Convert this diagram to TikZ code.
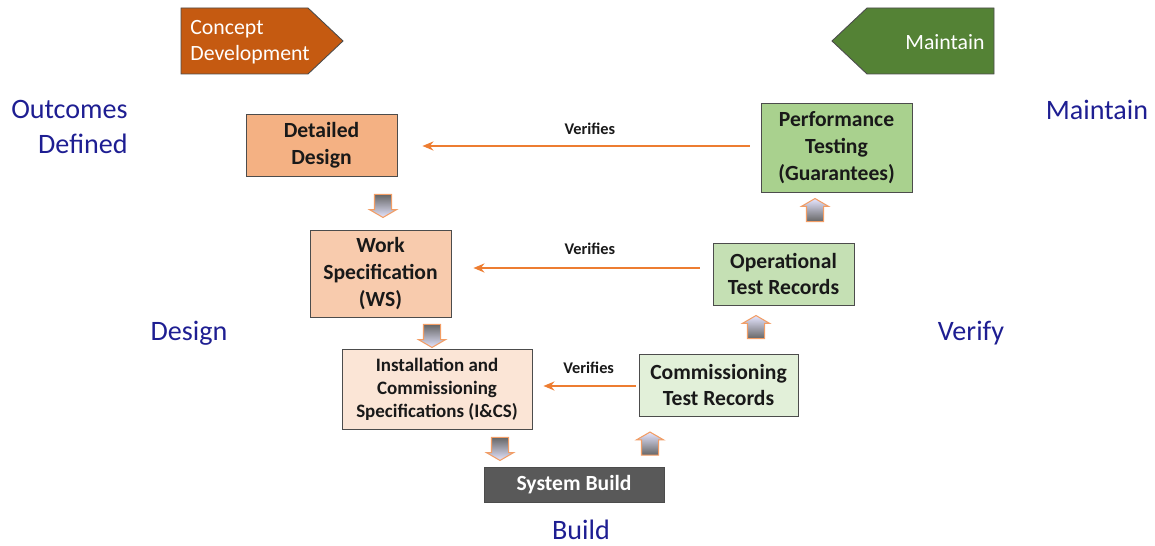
\documentclass[tikz,border=0pt]{standalone}
\usepackage{fontspec}
\setmainfont{Carlito}
\usetikzlibrary{shapes.arrows,arrows.meta}
\definecolor{cdev}{HTML}{C55A11}
\definecolor{mgreen}{HTML}{548235}
\definecolor{vorange}{HTML}{ED7D31}
\definecolor{phblue}{HTML}{1E1E92}
\definecolor{ddfill}{HTML}{F4B183}
\definecolor{wsfill}{HTML}{F8CBAD}
\definecolor{icsfill}{HTML}{FBE5D6}
\definecolor{ctfill}{HTML}{E2F0D9}
\definecolor{otfill}{HTML}{C5E0B4}
\definecolor{ptfill}{HTML}{A9D18E}
\definecolor{sbfill}{HTML}{595959}
\tikzset{
  blk/.style={draw=black!70, line width=0.5pt, align=center, inner sep=0pt,
              font=\fontsize{12.3}{15.3}\selectfont\bfseries, text=black!90},
  ver/.style={draw=vorange, line width=1.1pt, -{Stealth[length=2.2mm, width=1.8mm]}},
  vtxt/.style={font=\fontsize{9.3}{11}\selectfont\bfseries, text=black!90},
  phase/.style={text=phblue, font=\fontsize{16}{19.6}\selectfont},
  tag/.style={text=white, font=\fontsize{12.4}{14.8}\selectfont, inner sep=0pt},
  flow/.style={single arrow, draw=vorange!75, line width=0.6pt, inner sep=0.16cm,
               minimum height=0.46cm, single arrow head extend=0.1cm,
               single arrow tip angle=120, single arrow head indent=0pt},
  dnar/.style={flow, shape border rotate=270, top color=black!60, bottom color=blue!10!white},
  upar/.style={flow, shape border rotate=90, top color=blue!10!white, bottom color=black!60}
}
\begin{document}
\begin{tikzpicture}
\useasboundingbox (0,0) rectangle (23.1,10.92);
% phase tags on top
\filldraw[fill=cdev, draw=black!70, line width=0.5pt]
  (3.62,9.44) -- (6.16,9.44) -- (6.86,10.1) -- (6.16,10.76) -- (3.62,10.76) -- cycle;
\node[tag, anchor=west, align=left] (cdtxt) at (3.80,10.08) {Concept\\Development};
\filldraw[fill=mgreen, draw=black!70, line width=0.5pt]
  (19.88,9.44) -- (17.34,9.44) -- (16.64,10.1) -- (17.34,10.76) -- (19.88,10.76) -- cycle;
\node[tag] (mtxt) at (18.9,10.08) {Maintain};
% phase names
\node[phase, anchor=east, align=right, inner sep=0pt] (outc) at (2.56,8.38) {Outcomes\\Defined};
\node[phase] (pmaint) at (21.94,8.72) {Maintain};
\node[phase] (pdesign) at (3.78,4.26) {Design};
\node[phase] (pverify) at (19.42,4.26) {Verify};
\node[phase] (pbuild) at (11.62,0.32) {Build};
% left leg
\node[blk, fill=ddfill, minimum width=3.02cm, minimum height=1.24cm] (dd) at (6.43,8.02) {Detailed\\Design};
\node[blk, fill=wsfill, minimum width=2.82cm, minimum height=1.74cm] (ws) at (7.61,5.45) {Work\\Specification\\(WS)};
\node[blk, fill=icsfill, minimum width=3.8cm, minimum height=1.6cm,
      font=\fontsize{10.8}{13}\selectfont\bfseries] (ics) at (8.74,3.14)
      {Installation and\\Commissioning\\Specifications (I\&CS)};
% bottom
\node[blk, fill=sbfill, text=white, minimum width=3.6cm, minimum height=0.7cm] (sb) at (11.48,1.23) {System Build};
% right leg
\node[blk, fill=ctfill, minimum width=3.18cm, minimum height=1.24cm] (ct) at (14.37,3.22) {Commissioning\\Test Records};
\node[blk, fill=otfill, minimum width=2.82cm, minimum height=1.24cm] (ot) at (15.67,5.44) {Operational\\Test Records};
\node[blk, fill=ptfill, minimum width=3.02cm, minimum height=1.78cm] (pt) at (16.73,7.97) {Performance\\Testing\\(Guarantees)};
% flow arrows
\node[dnar] (d1) at (7.66,6.85) {};
\node[dnar] (d2) at (8.64,4.25) {};
\node[dnar] (d3) at (10.0,1.99) {};
\node[upar] (u1) at (13.0,2.0) {};
\node[upar] (u2) at (15.12,4.33) {};
\node[upar] (u3) at (16.3,6.67) {};
% verification links
\draw[ver, shorten <=0.22cm, shorten >=0.5cm] ([yshift=0.03cm]pt.west) -- ([yshift=0.03cm]pt.west -| dd.east)
  node[vtxt, pos=0.47, above=0.09cm] (v1) {Verifies};
\draw[ver, shorten <=0.26cm, shorten >=0.44cm] ([yshift=0.12cm]ot.west) -- ([yshift=0.12cm]ot.west -| ws.east)
  node[vtxt, pos=0.47, above=0.13cm] (v2) {Verifies};
\draw[ver, shorten <=0.06cm, shorten >=0.22cm] ([yshift=-0.02cm]ct.west) -- ([yshift=-0.02cm]ct.west -| ics.east)
  node[vtxt, pos=0.47, above=0.11cm] (v3) {Verifies};
\end{tikzpicture}
\end{document}
